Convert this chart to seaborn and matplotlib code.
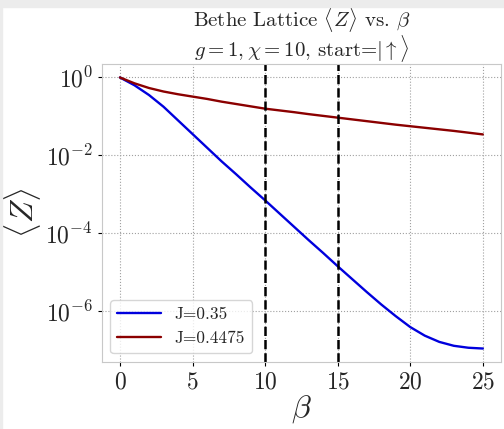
import numpy as np
import pandas as pd
import matplotlib
matplotlib.use("Agg")
import matplotlib.pyplot as plt
from matplotlib.patches import Rectangle
import seaborn as sns

# beta grid and log10 <Z>
beta = list(range(26))
logz_035 = [0, -0.2, -0.45, -0.75, -1.1, -1.45, -1.8, -2.15, -2.48, -2.82,
            -3.15, -3.49, -3.83, -4.17, -4.5, -4.84, -5.17, -5.5, -5.82, -6.12,
            -6.4, -6.62, -6.78, -6.88, -6.93, -6.95]
logz_04475 = [0, -0.15, -0.27, -0.36, -0.43, -0.49, -0.55, -0.62, -0.68, -0.74,
              -0.80, -0.845, -0.89, -0.94, -0.985, -1.03, -1.075, -1.12, -1.165, -1.21,
              -1.25, -1.29, -1.33, -1.37, -1.415, -1.46]
labels = ["J=0.35", "J=0.4475"]
vlines = [10, 15]

df = pd.DataFrame({
    "beta": beta * 2,
    "Z": list(10 ** np.array(logz_035)) + list(10 ** np.array(logz_04475)),
    "J": [labels[0]] * len(beta) + [labels[1]] * len(beta),
})

sns.set_style("whitegrid", {"grid.linestyle": ":", "grid.color": "#a0a0a0",
                            "axes.edgecolor": "#c8c8c8",
                            "xtick.bottom": True, "ytick.left": True})
plt.rcParams["font.family"] = "serif"
plt.rcParams["font.serif"] = ["cmr10", "DejaVu Serif"]
plt.rcParams["mathtext.fontset"] = "cm"
plt.rcParams["axes.formatter.use_mathtext"] = True

fig = plt.figure(figsize=(5.04, 4.29), dpi=100)
ax = fig.add_axes([0.202, 0.156, 0.792, 0.695])

# gray screenshot border
fig.patches.append(Rectangle((0, 1 - 7 / 429), 1, 7 / 429, transform=fig.transFigure,
                             color="#ececec", zorder=0))
fig.patches.append(Rectangle((0, 0), 2 / 504, 1, transform=fig.transFigure,
                             color="#ececec", zorder=0))

sns.lineplot(data=df, x="beta", y="Z", hue="J", palette=["#0000dd", "#8b0000"],
             linewidth=1.7, ax=ax)
for v in vlines:
    ax.axvline(v, color="black", linestyle="--", linewidth=1.8)

ax.set_yscale("log")
ax.set_yticks([1, 1e-2, 1e-4, 1e-6])
ax.minorticks_off()
ax.set_xticks([0, 5, 10, 15, 20, 25])
ax.tick_params(axis="both", labelsize=17, length=3, color="black", width=0.8)
ax.set_xlabel(r"$\beta$", fontsize=23, labelpad=0)
ax.set_ylabel(r"$\langle Z \rangle$", fontsize=23, labelpad=2)
ax.set_title("Bethe Lattice $\\langle Z \\rangle$ vs. $\\beta$\n"
             "$g=1, \\chi=10$, start=$| \\uparrow \\rangle$", fontsize=15,
             linespacing=0.95, pad=2)
ax.legend(loc="lower left", fontsize=12.5, title=None, handlelength=2.5)

fig.savefig("out.png", dpi=100)
